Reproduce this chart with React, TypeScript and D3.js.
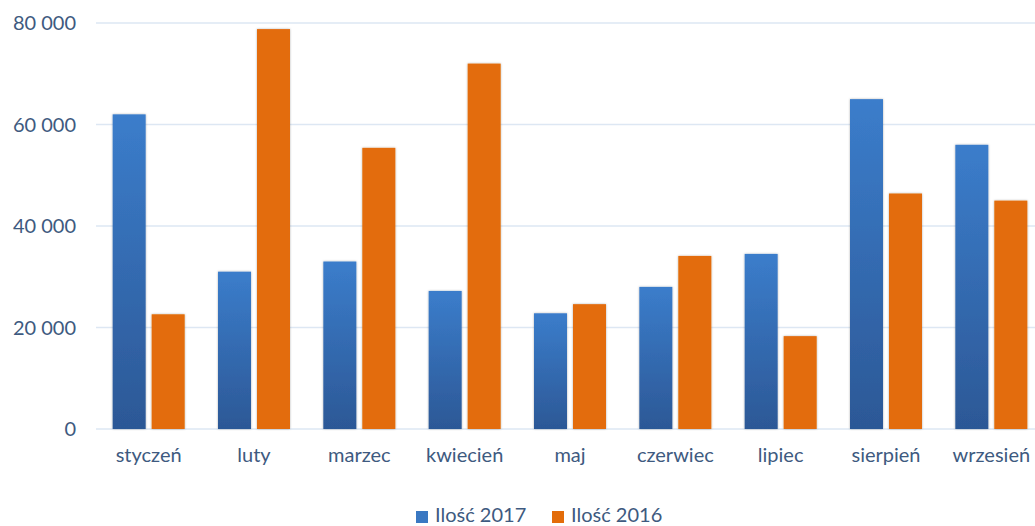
import React, { useEffect, useRef } from 'react';
import * as d3 from 'd3';

const months = ['styczeń', 'luty', 'marzec', 'kwiecień', 'maj', 'czerwiec', 'lipiec', 'sierpień', 'wrzesień'];
const values2017 = [62000, 31000, 33000, 27200, 22800, 28000, 34500, 65000, 56000];
const values2016 = [22600, 78800, 55400, 72000, 24600, 34100, 18300, 46400, 45000];
const yTicks = [0, 20000, 40000, 60000, 80000];
const seriesNames = ['Ilość 2017', 'Ilość 2016'];

const App = () => {
  const chartRef = useRef<SVGSVGElement | null>(null);

  useEffect(() => {
    const width = 1035;
    const height = 526;
    const left = 96;
    const right = 1044;
    const top = 23;
    const bottom = 429;
    const textColor = '#3e5a80';
    const font = 'Lato, "Open Sans", sans-serif';

    const root = d3.select(chartRef.current);
    root.selectAll('*').remove();
    const svg = root.attr('width', width).attr('height', height);

    const defs = svg.append('defs');
    const grad = defs.append('linearGradient')
      .attr('id', 'blueGrad')
      .attr('x1', 0).attr('y1', 0).attr('x2', 0).attr('y2', 1);
    grad.append('stop').attr('offset', '0%').attr('stop-color', '#3b7dcb');
    grad.append('stop').attr('offset', '100%').attr('stop-color', '#2c5896');

    const shadow = defs.append('filter').attr('id', 'shadow')
      .attr('x', '-20%').attr('y', '-5%').attr('width', '140%').attr('height', '110%');
    shadow.append('feDropShadow')
      .attr('dx', 0).attr('dy', 0).attr('stdDeviation', 1.2)
      .attr('flood-color', '#000').attr('flood-opacity', 0.3);

    const x = d3.scaleBand().domain(months).range([left, right]).paddingInner(0).paddingOuter(0);
    const y = d3.scaleLinear().domain([0, 80000]).range([bottom, top]);

    // grid lines
    svg.append('g')
      .selectAll('line')
      .data(yTicks)
      .enter()
      .append('line')
      .attr('x1', left)
      .attr('x2', width)
      .attr('y1', d => y(d))
      .attr('y2', d => y(d))
      .attr('stroke', '#dde7f3')
      .attr('stroke-width', 1.5);

    // y tick labels
    const fmt = (v: number) => d3.format(',')(v).replace(/,/g, ' ');
    svg.append('g')
      .selectAll('text')
      .data(yTicks)
      .enter()
      .append('text')
      .attr('x', 76)
      .attr('y', d => y(d))
      .attr('dy', '0.35em')
      .attr('text-anchor', 'end')
      .attr('fill', textColor)
      .style('font-family', font)
      .style('font-size', '20px')
      .text(d => fmt(d));

    const barW = 33;
    const gap = 6;
    const groupOffset = (x.bandwidth() - (barW * 2 + gap)) / 2;

    svg.selectAll('.bar-2017')
      .data(values2017)
      .enter()
      .append('rect')
      .attr('class', 'bar-2017')
      .attr('x', (d, i) => (x(months[i]) as number) + groupOffset)
      .attr('y', d => y(d))
      .attr('width', barW)
      .attr('height', d => bottom - y(d))
      .attr('fill', 'url(#blueGrad)')
      .attr('filter', 'url(#shadow)');

    svg.selectAll('.bar-2016')
      .data(values2016)
      .enter()
      .append('rect')
      .attr('class', 'bar-2016')
      .attr('x', (d, i) => (x(months[i]) as number) + groupOffset + barW + gap)
      .attr('y', d => y(d))
      .attr('width', barW)
      .attr('height', d => bottom - y(d))
      .attr('fill', '#e36c0a')
      .attr('filter', 'url(#shadow)');

    // x labels
    svg.append('g')
      .selectAll('text')
      .data(months)
      .enter()
      .append('text')
      .attr('x', d => (x(d) as number) + x.bandwidth() / 2)
      .attr('y', 462)
      .attr('text-anchor', 'middle')
      .attr('fill', textColor)
      .style('font-family', font)
      .style('font-size', '20px')
      .text(d => d);

    // legend
    const legendColors = ['#3a78c2', '#e36c0a'];
    const legendX = [416, 552];
    const legend = svg.append('g');
    seriesNames.forEach((name, i) => {
      legend.append('rect')
        .attr('x', legendX[i])
        .attr('y', 511)
        .attr('width', 12)
        .attr('height', 12)
        .attr('fill', legendColors[i]);
      legend.append('text')
        .attr('x', legendX[i] + 19)
        .attr('y', 522)
        .attr('fill', textColor)
        .style('font-family', font)
        .style('font-size', '20px')
        .text(name);
    });
  }, []);

  return (
    <div style={{ position: 'fixed', left: 0, top: 0, width: 1035, height: 526, overflow: 'hidden', background: '#fff' }}>
      <svg ref={chartRef} style={{ display: 'block' }}></svg>
    </div>
  );
};

export default App;
